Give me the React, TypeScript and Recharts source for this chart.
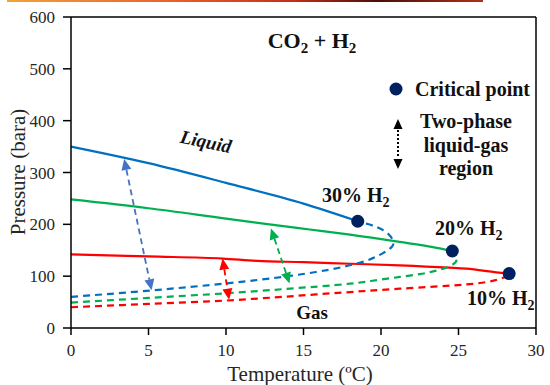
import React from 'react';
import { ComposedChart, Line, Scatter, XAxis, YAxis, ReferenceLine } from 'recharts';

const xTicks = [0, 5, 10, 15, 20, 25, 30];
const yTicks = [0, 100, 200, 300, 400, 500, 600];

// 30% H2
const liquid30 = [
  { t: 0, p: 350 }, { t: 5, p: 318 }, { t: 10, p: 280 }, { t: 15, p: 240 }, { t: 18.5, p: 206 },
];
const gas30 = [
  { t: 0, p: 60 }, { t: 5.2, p: 72.5 }, { t: 10, p: 86 }, { t: 12.15, p: 93 }, { t: 15.8, p: 108 },
  { t: 18.4, p: 124 }, { t: 20.1, p: 144 }, { t: 20.8, p: 163 }, { t: 20.55, p: 179 },
  { t: 19.7, p: 195 }, { t: 18.5, p: 206 },
];
// 20% H2
const liquid20 = [
  { t: 0, p: 248 }, { t: 5, p: 231 }, { t: 10, p: 211 }, { t: 12.8, p: 200 }, { t: 15.4, p: 190 },
  { t: 18, p: 180 }, { t: 21.2, p: 166 }, { t: 23.35, p: 156 }, { t: 24.6, p: 148.5 },
];
const gas20 = [
  { t: 0, p: 49 }, { t: 5, p: 58 }, { t: 10, p: 67 }, { t: 13.7, p: 75 }, { t: 18, p: 85.5 },
  { t: 20, p: 93.5 }, { t: 21.2, p: 98.5 }, { t: 22.5, p: 104 }, { t: 24.2, p: 116.5 },
  { t: 24.87, p: 131 }, { t: 24.6, p: 148.5 },
];
// 10% H2
const liquid10 = [
  { t: 0, p: 142 }, { t: 5, p: 138 }, { t: 9.8, p: 134 }, { t: 12, p: 129.5 }, { t: 15, p: 127 },
  { t: 18, p: 124 }, { t: 21.2, p: 121 }, { t: 24.4, p: 116.5 }, { t: 25.5, p: 114.5 },
  { t: 27.6, p: 107 }, { t: 28.27, p: 105 },
];
const gas10 = [
  { t: 0, p: 40 }, { t: 5, p: 46.5 }, { t: 10, p: 53 }, { t: 12.15, p: 57 }, { t: 15.8, p: 64.8 },
  { t: 21.2, p: 75.8 }, { t: 25.5, p: 84 }, { t: 27.6, p: 94 }, { t: 28.27, p: 105 },
];
const criticalPoints = [
  { t: 18.5, p: 206 }, { t: 24.6, p: 148.5 }, { t: 28.27, p: 105 },
];
// two-phase arrows [start, end]
const arrowBlue = [{ x: 3.43, y: 326 }, { x: 5.2, y: 72.6 }];
const arrowRed = [{ x: 9.78, y: 134 }, { x: 10.2, y: 54.6 }];
const arrowGreen = [{ x: 12.9, y: 192 }, { x: 14.1, y: 86 }];

const BLUE = '#0070C0';
const GREEN = '#00B050';
const RED = '#FF0000';
const NAVY = '#002060';
const FONT = '"Liberation Serif", "Times New Roman", serif';

function arrowShape(color: string) {
  return (props: any) => {
    const { x1, y1, x2, y2 } = props;
    const dx = x2 - x1, dy = y2 - y1;
    const len = Math.sqrt(dx * dx + dy * dy);
    const ux = dx / len, uy = dy / len;
    const px = -uy, py = ux;
    const hl = 11, hw = 5;
    const head = (tx: number, ty: number, dir: number) => {
      const bx = tx - dir * ux * hl, by = ty - dir * uy * hl;
      return `${tx},${ty} ${bx + px * hw},${by + py * hw} ${bx - px * hw},${by - py * hw}`;
    };
    return (
      <g>
        <line x1={x1 + ux * hl} y1={y1 + uy * hl} x2={x2 - ux * hl} y2={y2 - uy * hl}
          stroke={color} strokeWidth={1.8} strokeDasharray="6 4" />
        <polygon points={head(x1, y1, -1)} fill={color} />
        <polygon points={head(x2, y2, 1)} fill={color} />
      </g>
    );
  };
}

const tickStyle = { fontFamily: FONT, fontSize: 17, fill: '#262626' };

export default function App() {
  const bold = { fontFamily: FONT, fontWeight: 700, fill: '#111' } as const;
  return (
    <div style={{ position: 'absolute', left: 0, top: 0, width: 550, height: 385, background: '#fff' }}>
      <div style={{ position: 'absolute', left: 7, top: 0, width: 476, height: 2,
        background: 'linear-gradient(90deg, #F2A23A 0%, #E9602A 35%, #C0301A 60%, #4A0E08 78%, #B03018 100%)' }} />
      <ComposedChart width={550} height={385} margin={{ top: 17, right: 14, bottom: 0, left: 0 }}>
        <XAxis dataKey="t" type="number" domain={[0, 30]} ticks={xTicks} height={57}
          stroke="#000" strokeWidth={1.5} tickSize={7} tickMargin={9} tick={tickStyle} interval={0} />
        <YAxis type="number" domain={[0, 600]} ticks={yTicks} width={71}
          stroke="#000" strokeWidth={1.5} tickSize={8} tickMargin={8} tick={tickStyle} interval={0} />
        <ReferenceLine y={600} stroke="#000" strokeWidth={1.5} />
        <ReferenceLine x={30} stroke="#000" strokeWidth={1.5} />
        <Line data={liquid30} dataKey="p" type="monotone" stroke={BLUE} strokeWidth={2.2} dot={false} isAnimationActive={false} />
        <Line data={liquid20} dataKey="p" type="monotone" stroke={GREEN} strokeWidth={2.2} dot={false} isAnimationActive={false} />
        <Line data={liquid10} dataKey="p" type="monotone" stroke={RED} strokeWidth={2.2} dot={false} isAnimationActive={false} />
        <Line data={gas30} dataKey="p" type="monotoneY" stroke={BLUE} strokeWidth={2.2} strokeDasharray="7 5" dot={false} isAnimationActive={false} />
        <Line data={gas20} dataKey="p" type="monotoneY" stroke={GREEN} strokeWidth={2.2} strokeDasharray="7 5" dot={false} isAnimationActive={false} />
        <Line data={gas10} dataKey="p" type="monotoneY" stroke={RED} strokeWidth={2.2} strokeDasharray="7 5" dot={false} isAnimationActive={false} />
        <ReferenceLine segment={arrowBlue} shape={arrowShape('#4472C4')} />
        <ReferenceLine segment={arrowRed} shape={arrowShape(RED)} />
        <ReferenceLine segment={arrowGreen} shape={arrowShape(GREEN)} />
        <Scatter data={criticalPoints} dataKey="p" fill={NAVY} isAnimationActive={false}
          shape={(props: any) => <circle cx={props.cx} cy={props.cy} r={6.5} fill={NAVY} />} />
      </ComposedChart>
      <svg width={550} height={385} style={{ position: 'absolute', left: 0, top: 0, pointerEvents: 'none' }}>
        <text x={312} y={48} textAnchor="middle" fontSize={22} {...bold}>
          CO<tspan fontSize={15} dy={5}>2</tspan><tspan dy={-5}> + H</tspan><tspan fontSize={15} dy={5}>2</tspan>
        </text>
        <circle cx={396} cy={89} r={6.5} fill={NAVY} />
        <text x={415} y={96} fontSize={20} {...bold}>Critical point</text>
        <line x1={398} y1={130} x2={398} y2={158} stroke="#000" strokeWidth={2} strokeDasharray="2 2" />
        <polygon points="398,119 393.5,129 402.5,129" fill="#000" />
        <polygon points="398,169 393.5,159 402.5,159" fill="#000" />
        <text x={466} y={128} textAnchor="middle" fontSize={20} {...bold}>Two-phase</text>
        <text x={466} y={152} textAnchor="middle" fontSize={20} {...bold}>liquid-gas</text>
        <text x={466} y={175} textAnchor="middle" fontSize={20} {...bold}>region</text>
        <text x={206} y={148} textAnchor="middle" fontSize={19} fontStyle="italic" transform="rotate(12 206 141)" {...bold}>Liquid</text>
        <text x={322} y={202} fontSize={20} {...bold}>30% H<tspan fontSize={14} dy={5}>2</tspan></text>
        <text x={435} y={235} fontSize={20} {...bold}>20% H<tspan fontSize={14} dy={5}>2</tspan></text>
        <text x={467} y={305} fontSize={20} {...bold}>10% H<tspan fontSize={14} dy={5}>2</tspan></text>
        <text x={312} y={319} textAnchor="middle" fontSize={19} {...bold}>Gas</text>
        <text x={25} y={172} textAnchor="middle" fontSize={21} fontFamily={FONT} fill="#262626" transform="rotate(-90 25 172)">Pressure (bara)</text>
        <text x={300} y={381} textAnchor="middle" fontSize={21} fontFamily={FONT} fill="#262626">Temperature (ºC)</text>
      </svg>
    </div>
  );
}
